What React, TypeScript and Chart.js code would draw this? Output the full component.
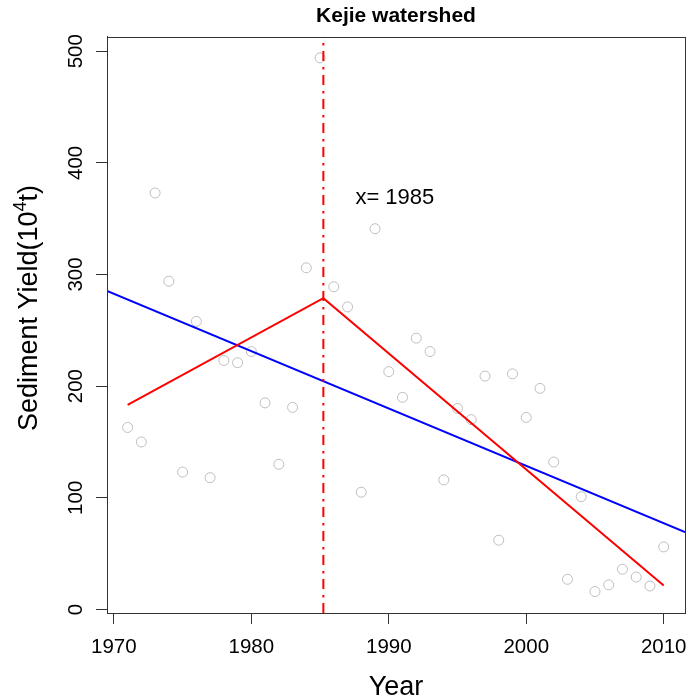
import React, { useEffect, useRef } from "react";
import { Chart, registerables } from "chart.js";

Chart.register(...registerables);

const years = [
  1971, 1972, 1973, 1974, 1975, 1976, 1977, 1978, 1979, 1980,
  1981, 1982, 1983, 1984, 1985, 1986, 1987, 1988, 1989, 1990,
  1991, 1992, 1993, 1994, 1995, 1996, 1997, 1998, 1999, 2000,
  2001, 2002, 2003, 2004, 2005, 2006, 2007, 2008, 2009, 2010,
];
const sedimentYield = [
  163, 150, 373, 294, 123, 258, 118, 223, 221, 231,
  185, 130, 181, 306, 494, 289, 271, 105, 341, 213,
  190, 243, 231, 116, 180, 170, 209, 62, 211, 172,
  198, 132, 27, 101, 16, 22, 36, 29, 21, 56,
];
const xTicks = [1970, 1980, 1990, 2000, 2010];
const yTicks = [0, 100, 200, 300, 400, 500];
const xRange = [1969.5, 2011.55];
const yRange = [-3.2, 513];
const linearFitYears = [1969.5, 2011.55];
const linearFitValues = [285.2, 69.2];
const segmentYears = [1971, 1985.24, 2010];
const segmentValues = [183.3, 278.8, 21.5];
const breakYear = 1985.24;
const annotationText = "x= 1985";
const annotationX = 1990.44;
const annotationY = 368.6;
const chartTitle = "Kejie watershed";
const xTitle = "Year";
const yTitleMain = "Sediment Yield(10";
const yTitleSup = "4";
const yTitleEnd = "t)";

const FONT = "'Liberation Sans', Arial, sans-serif";

export default function App() {
  const canvasRef = useRef<HTMLCanvasElement | null>(null);

  useEffect(() => {
    document.body.style.margin = "0";
    const canvas = canvasRef.current;
    if (!canvas) return;

    const extras = {
      id: "extras",
      afterDraw(chart: any) {
        const { ctx, chartArea } = chart;
        const xs = chart.scales.x;
        const ys = chart.scales.y;
        ctx.save();
        // box
        ctx.strokeStyle = "#333333";
        ctx.lineWidth = 1;
        ctx.strokeRect(
          Math.round(chartArea.left) + 0.5,
          Math.round(chartArea.top) + 0.5,
          Math.round(chartArea.right - chartArea.left),
          Math.round(chartArea.bottom - chartArea.top)
        );
        // y tick labels (rotated, parallel to axis)
        ctx.fillStyle = "#000";
        ctx.font = `20.5px ${FONT}`;
        ctx.textAlign = "center";
        ctx.textBaseline = "middle";
        for (const v of yTicks) {
          const py = ys.getPixelForValue(v);
          ctx.save();
          ctx.translate(chartArea.left - 31, py);
          ctx.rotate(-Math.PI / 2);
          ctx.fillText(String(v), 0, 0);
          ctx.restore();
        }
        // y axis title with superscript
        const mainFont = `27px ${FONT}`;
        const supFont = `18px ${FONT}`;
        ctx.font = mainFont;
        const w1 = ctx.measureText(yTitleMain).width;
        const w3 = ctx.measureText(yTitleEnd).width;
        ctx.font = supFont;
        const w2 = ctx.measureText(yTitleSup).width;
        const total = w1 + w2 + w3;
        ctx.save();
        ctx.translate(27, 308);
        ctx.rotate(-Math.PI / 2);
        ctx.textAlign = "left";
        ctx.textBaseline = "alphabetic";
        let x0 = -total / 2;
        const base = 10;
        ctx.font = mainFont;
        ctx.fillText(yTitleMain, x0, base);
        x0 += w1;
        ctx.font = supFont;
        ctx.fillText(yTitleSup, x0, base - 11);
        x0 += w2;
        ctx.font = mainFont;
        ctx.fillText(yTitleEnd, x0, base);
        ctx.restore();
        // annotation
        ctx.font = `22px ${FONT}`;
        ctx.textAlign = "center";
        ctx.textBaseline = "middle";
        ctx.fillText(
          annotationText,
          xs.getPixelForValue(annotationX),
          ys.getPixelForValue(annotationY)
        );
        ctx.restore();
      },
    };

    const chart = new Chart(canvas, {
      type: "scatter",
      data: {
        datasets: [
          {
            label: "break",
            data: [
              { x: breakYear, y: yRange[0] },
              { x: breakYear, y: yRange[1] },
            ],
            showLine: true,
            borderColor: "#ff0000",
            borderWidth: 2,
            borderDash: [10, 5.5, 2.5, 6],
            pointRadius: 0,
          },
          {
            label: "segmented",
            data: segmentYears.map((x, i) => ({ x, y: segmentValues[i] })),
            showLine: true,
            borderColor: "#ff0000",
            borderWidth: 2,
            pointRadius: 0,
          },
          {
            label: "linear",
            data: linearFitYears.map((x, i) => ({ x, y: linearFitValues[i] })),
            showLine: true,
            borderColor: "#0000ff",
            borderWidth: 2,
            pointRadius: 0,
          },
          {
            label: "Sediment yield",
            data: years.map((x, i) => ({ x, y: sedimentYield[i] })),
            showLine: false,
            pointRadius: 5,
            pointBorderWidth: 1,
            pointBorderColor: "#bebebe",
            pointBackgroundColor: "rgba(0,0,0,0)",
          },
        ],
      },
      options: {
        animation: false,
        responsive: false,
        maintainAspectRatio: false,
        layout: { padding: { left: 0, right: 6, top: 0, bottom: 0 } },
        plugins: {
          legend: { display: false },
          tooltip: { enabled: false },
          title: {
            display: true,
            text: chartTitle,
            fullSize: false,
            color: "#000",
            font: { family: FONT, size: 21, weight: "bold" },
            padding: { top: 4, bottom: 7.5 },
          },
        },
        scales: {
          x: {
            type: "linear",
            min: xRange[0],
            max: xRange[1],
            afterBuildTicks: (s: any) => {
              s.ticks = xTicks.map((v) => ({ value: v }));
            },
            afterFit: (s: any) => {
              s.height = 85;
              s.paddingLeft = 0;
              s.paddingRight = 0;
            },
            grid: {
              drawOnChartArea: false,
              drawTicks: true,
              tickLength: 11,
              color: "#333333",
            },
            border: { display: true, color: "#333333" },
            ticks: {
              autoSkip: false,
              maxRotation: 0,
              minRotation: 0,
              padding: 11,
              color: "#000",
              font: { family: FONT, size: 20.5 },
              callback: (v: any) => String(v),
            },
            title: {
              display: true,
              text: xTitle,
              color: "#000",
              font: { family: FONT, size: 27 },
              padding: { top: 0, bottom: -6 },
            },
          },
          y: {
            type: "linear",
            min: yRange[0],
            max: yRange[1],
            afterBuildTicks: (s: any) => {
              s.ticks = yTicks.map((v) => ({ value: v }));
            },
            afterFit: (s: any) => {
              s.width = 107;
              s.paddingTop = 0;
              s.paddingBottom = 0;
            },
            grid: {
              drawOnChartArea: false,
              drawTicks: true,
              tickLength: 11,
              color: "#333333",
            },
            border: { display: true, color: "#333333" },
            ticks: { display: false },
          },
        },
      },
      plugins: [extras],
    });

    return () => chart.destroy();
  }, []);

  return (
    <div style={{ width: 691, height: 698 }}>
      <canvas ref={canvasRef} width={691} height={698} style={{ display: "block" }} />
    </div>
  );
}
